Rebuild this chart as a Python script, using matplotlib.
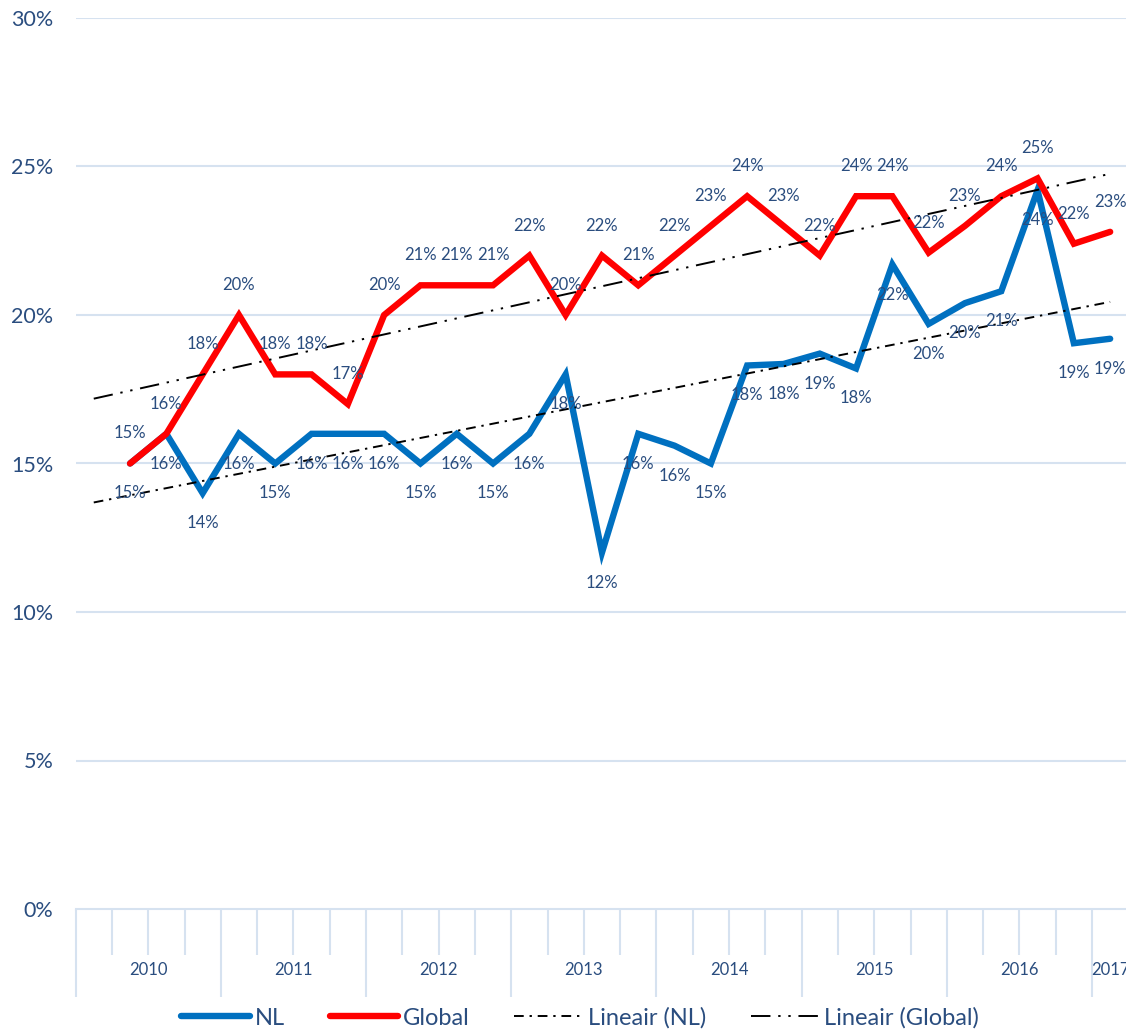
import numpy as np
import matplotlib
matplotlib.use("Agg")
import matplotlib.pyplot as plt
from matplotlib.lines import Line2D

# ---------------- data ----------------
years = ["2010", "2011", "2012", "2013", "2014", "2015", "2016", "2017"]
quarters_per_year = [4, 4, 4, 4, 4, 4, 4, 1]
# first category (2010 Q1) is empty
nl = [np.nan, 15, 16, 14, 16, 15, 16, 16, 16, 15, 16, 15, 16, 18, 12, 16, 15.6, 15,
      18.3, 18.35, 18.7, 18.2, 21.7, 19.7, 20.4, 20.8, 24.2, 19.05, 19.2]
glob = [np.nan, 15, 16, 18, 20, 18, 18, 17, 20, 21, 21, 21, 22, 20, 22, 21, 22, 23,
        24, 23, 22, 24, 24, 22.1, 23.0, 24, 24.6, 22.4, 22.8]

NL_C = "#0070C0"
GL_C = "#FF0000"
TXT = "#2A4D7F"
GRID = "#D6E2F0"

plt.rcParams['font.family'] = ['Lato', 'DejaVu Sans']

W, H = 1126, 1031
fig = plt.figure(figsize=(W / 100, H / 100), dpi=100)
left_px, right_px = 75.6, 1128.3
bottom_px, top_px = 909, 18
ax = fig.add_axes([left_px / W, (H - bottom_px) / H,
                   (right_px - left_px) / W, (bottom_px - top_px) / H])

n = len(nl)
x = np.arange(n)
nl_a = np.array(nl, dtype=float)
gl_a = np.array(glob, dtype=float)

ax.set_xlim(-0.5, n - 0.5)
ax.set_ylim(0, 30)

# gridlines
for v in range(5, 31, 5):
    ax.axhline(v, color=GRID, lw=1.5, zorder=0)

# series
ax.plot(x, nl_a, color=NL_C, lw=4.6, solid_joinstyle='miter', solid_capstyle='round', zorder=3)
ax.plot(x, gl_a, color=GL_C, lw=4.6, solid_joinstyle='miter', solid_capstyle='round', zorder=4)

# linear trends
nl_style = (0, (5, 3, 1.2, 3))
gl_style = (0, (10, 4, 1.2, 4, 1.2, 4))
for arr, style in ((nl_a, nl_style), (gl_a, gl_style)):
    m = ~np.isnan(arr)
    k, b = np.polyfit(x[m], arr[m], 1)
    xt = np.array([0, n - 1])
    ax.plot(xt, k * xt + b, color='black', lw=1.4, linestyle=style, zorder=5)

# data labels
for xi, v in zip(x, nl_a):
    if not np.isnan(v):
        ax.annotate(f"{v:.0f}%", (xi, v), xytext=(0, -30), textcoords='offset pixels',
                    ha='center', va='center', fontsize=12, color=TXT, zorder=6)
for xi, v in zip(x, gl_a):
    if not np.isnan(v):
        ax.annotate(f"{v:.0f}%", (xi, v), xytext=(0, 30), textcoords='offset pixels',
                    ha='center', va='center', fontsize=12, color=TXT, zorder=6)

# axes styling
for s in ('top', 'right', 'left'):
    ax.spines[s].set_visible(False)
ax.spines['bottom'].set_color(GRID)
ax.spines['bottom'].set_linewidth(1.5)

ax.set_yticks(range(0, 31, 5))
ax.set_yticklabels([f"{v}%" for v in range(0, 31, 5)])
ax.tick_params(axis='y', length=0, pad=16, labelsize=15.5, labelcolor=TXT)

bounds = np.cumsum([0] + quarters_per_year) - 0.5
ax.set_xticks(bounds)
ax.set_xticklabels([])
ax.set_xticks(np.arange(-0.5, n + 0.5, 1), minor=True)
ax.tick_params(axis='x', which='major', length=63, width=1.5, color=GRID, direction='out')
ax.tick_params(axis='x', which='minor', length=33, width=1.5, color=GRID, direction='out')

# year labels
for yr, lo, hi in zip(years, bounds[:-1], bounds[1:]):
    c = (lo + hi) / 2
    ax.annotate(yr, (c, 0), xycoords=('data', 'axes fraction'), xytext=(0, -61),
                textcoords='offset pixels', ha='center', va='center',
                fontsize=12, color=TXT, annotation_clip=False)

# legend
handles = [Line2D([], [], color=NL_C, lw=4.6, solid_capstyle='round'),
           Line2D([], [], color=GL_C, lw=4.6, solid_capstyle='round'),
           Line2D([], [], color='black', lw=1.4, linestyle=nl_style),
           Line2D([], [], color='black', lw=1.4, linestyle=gl_style)]
labels = ["NL", "Global", "Lineair (NL)", "Lineair (Global)"]
leg = fig.legend(handles, labels, loc='center', bbox_to_anchor=(580 / W, 13 / H), ncol=4,
                 frameon=False, fontsize=17, handlelength=2.9, handletextpad=0.2,
                 columnspacing=1.9, labelcolor=TXT, borderpad=0.2)

fig.savefig("out.png", dpi=100)
